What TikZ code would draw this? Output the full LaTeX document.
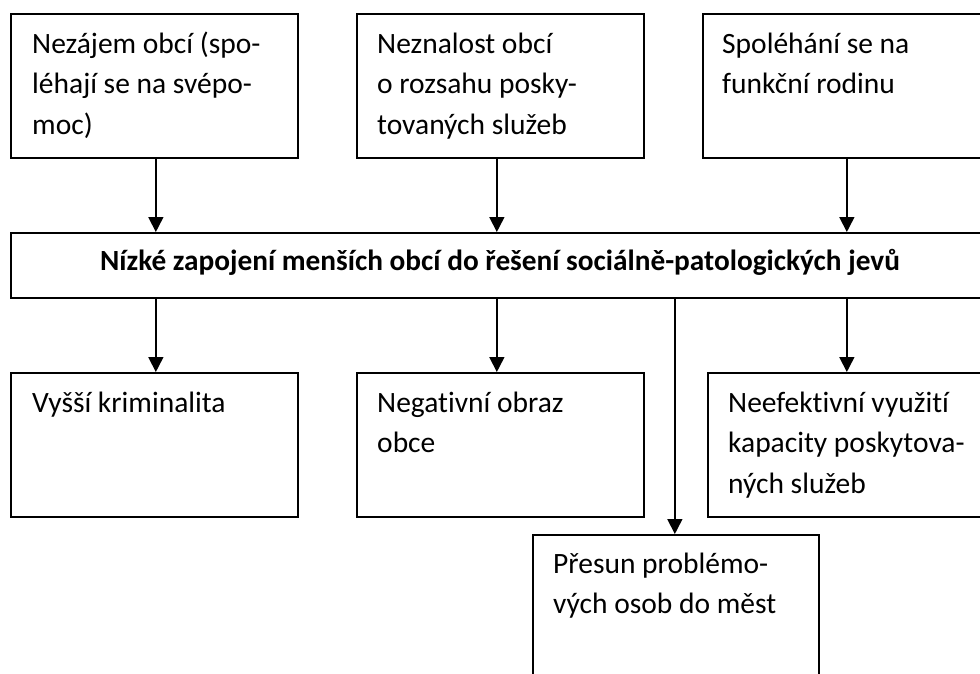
\documentclass[tikz,border=0pt]{standalone}
\usepackage{fontspec}
\setmainfont{Carlito}[Ligatures=NoCommon]
\usetikzlibrary{arrows.meta,calc}
\begin{document}
\begin{tikzpicture}[x=1pt,y=-1pt,
  box/.style={draw,line width=1.7pt,rectangle,inner sep=0pt,anchor=north west},
  lbl/.style={inner sep=0pt,anchor=base west,font=\fontsize{29.5}{40.8}\selectfont},
  arr/.style={line width=1.7pt,-{Triangle[width=15pt,length=15pt]}}]
\useasboundingbox[fill=white] (0,0) rectangle (980,673);
% top row
\node[box,minimum width=287pt,minimum height=144pt] (b1) at (10,13) {};
\node[box,minimum width=287pt,minimum height=144pt] (b2) at (356,13) {};
\node[box,minimum width=288pt,minimum height=144pt] (b3) at (702,13) {};
% main
\node[box,minimum width=980pt,minimum height=65pt] (main) at (10,232) {};
% bottom row
\node[box,minimum width=287pt,minimum height=144pt] (b4) at (10,372) {};
\node[box,minimum width=287pt,minimum height=144pt] (b5) at (356,372) {};
\node[box,minimum width=283pt,minimum height=144pt] (b6) at (707,372) {};
\node[box,minimum width=286pt,minimum height=160pt] (b7) at (532,534) {};
% texts
\node[lbl] (t1) at ($(b1.north west)+(22,40)$) {\parbox[t]{265pt}{Nezájem obcí (spo-\\léhají se na svépo-\\moc)}};
\node[lbl] (t2) at ($(b2.north west)+(21,40)$) {\parbox[t]{265pt}{Neznalost obcí\\o rozsahu posky-\\tovaných služeb}};
\node[lbl] (t3) at ($(b3.north west)+(20,40)$) {\parbox[t]{265pt}{Spoléhání se na\\funkční rodinu}};
\node[inner sep=0pt,anchor=base,font=\bfseries\fontsize{29.3}{35}\selectfont] (tm) at (500,270) {Nízké zapojení menších obcí do řešení sociálně-patologických jevů};
\node[lbl] (t4) at ($(b4.north west)+(22,40)$) {\parbox[t]{265pt}{Vyšší kriminalita}};
\node[lbl] (t5) at ($(b5.north west)+(21,40)$) {\parbox[t]{265pt}{Negativní obraz\\obce}};
\node[lbl] (t6) at ($(b6.north west)+(21,40)$) {\parbox[t]{262pt}{Neefektivní využití\\kapacity poskytova-\\ných služeb}};
\node[lbl] (t7) at ($(b7.north west)+(21,39)$) {\parbox[t]{265pt}{Přesun problémo-\\vých osob do měst}};
% arrows
\draw[arr] ([xshift=1.5pt]b1.south) -- ([xshift=1.5pt]b1.south |- main.north);
\draw[arr] ([xshift=-3.5pt]b2.south) -- ([xshift=-3.5pt]b2.south |- main.north);
\draw[arr] (b3.south) -- (b3.south |- main.north);
\draw[arr] ([xshift=1.5pt]b4.north |- main.south) -- ([xshift=1.5pt]b4.north);
\draw[arr] ([xshift=-3.5pt]b5.north |- main.south) -- ([xshift=-3.5pt]b5.north);
\draw[arr] ([xshift=-2.5pt]b6.north |- main.south) -- ([xshift=-2.5pt]b6.north);
\draw[arr] ([xshift=-1pt]b7.north |- main.south) -- ([xshift=-1pt]b7.north);
\end{tikzpicture}
\end{document}
